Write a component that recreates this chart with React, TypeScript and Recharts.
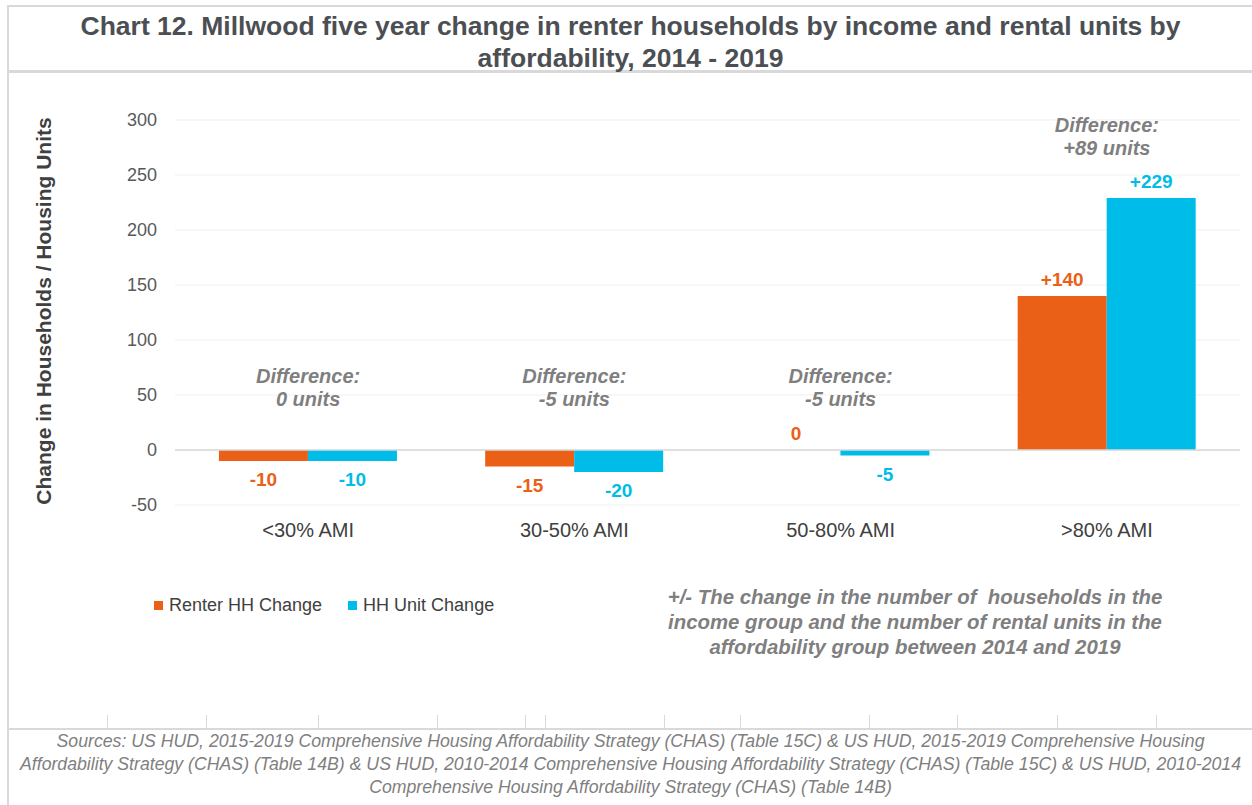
import React from 'react';
import {
  BarChart,
  Bar,
  XAxis,
  YAxis,
  CartesianGrid,
  ReferenceLine,
  ReferenceDot,
  LabelList,
  Legend,
} from 'recharts';

// Chart data
const CATEGORIES = ['<30% AMI', '30-50% AMI', '50-80% AMI', '>80% AMI'];
const RENTER_HH_CHANGE = [-10, -15, 0, 140];
const HH_UNIT_CHANGE = [-10, -20, -5, 229];
// vertical position (in data units) of the "Difference" notes
const DIFF_NOTE_Y = [57, 57, 57, 285];
const Y_TICKS = [-50, 0, 50, 100, 150, 200, 250, 300];

const SERIES = [
  { key: 'renter', name: 'Renter HH Change', color: '#EA6017' },
  { key: 'units', name: 'HH Unit Change', color: '#00BCE8' },
];

// decorative cell borders along the bottom of the frame
const FRAME_TICKS_X = [107, 206, 318, 437, 525, 545, 664, 740, 869, 957, 1057, 1156];

const FONT = '"Liberation Sans", Arial, sans-serif';
const FRAME = '#d9d9d9';

const data = CATEGORIES.map((c, i) => ({
  name: c,
  renter: RENTER_HH_CHANGE[i],
  units: HH_UNIT_CHANGE[i],
}));

function signed(v: number) {
  return v > 0 ? `+${v}` : `${v}`;
}

/**
 * Value label: above the bar for >= 0, below the bar end for negatives
 */
function makeValueLabel(color: string) {
  return (props: any) => {
    const { x, y, width, height, value } = props;
    const v = Number(value);
    const cx = Number(x) + Number(width) / 2;
    const top = Math.min(Number(y), Number(y) + Number(height));
    const bottom = Math.max(Number(y), Number(y) + Number(height));
    const ty = v >= 0 ? top - 10 : bottom + 25;
    return (
      <text
        x={cx}
        y={ty}
        textAnchor="middle"
        fill={color}
        fontFamily={FONT}
        fontWeight="bold"
        fontSize={19}
      >
        {signed(v)}
      </text>
    );
  };
}

function DiffNote(props: any) {
  const { viewBox, diff } = props;
  const cx = viewBox.x + (viewBox.width || 0) / 2;
  const cy = viewBox.y + (viewBox.height || 0) / 2;
  const style = {
    fontFamily: FONT,
    fontWeight: 'bold' as const,
    fontStyle: 'italic' as const,
    fontSize: 20,
    fill: '#7f7f7f',
  };
  return (
    <g>
      <text x={cx} y={cy - 4.5} textAnchor="middle" style={style}>
        Difference:
      </text>
      <text x={cx} y={cy + 18.5} textAnchor="middle" style={style}>
        {`${signed(diff)} units`}
      </text>
    </g>
  );
}

function LegendContent() {
  return (
    <div style={{ display: 'flex', alignItems: 'center', fontFamily: FONT, fontSize: 18, color: '#404040' }}>
      {SERIES.map((s, i) => (
        <div key={s.key} style={{ display: 'flex', alignItems: 'center', marginRight: i === 0 ? 26 : 0 }}>
          <span style={{ display: 'inline-block', width: 9, height: 9, background: s.color, marginRight: 6 }} />
          <span>{s.name}</span>
        </div>
      ))}
    </div>
  );
}

const abs = (style: React.CSSProperties): React.CSSProperties => ({ position: 'absolute', ...style });

export default function App() {
  return (
    <div style={{ position: 'absolute', left: 0, top: 0, width: 1252, height: 805, background: '#fff', overflow: 'hidden' }}>
      {/* frame */}
      <div style={abs({ left: 7, top: 5, width: 1245, height: 2, background: FRAME })} />
      <div style={abs({ left: 7, top: 5, width: 2, height: 800, background: FRAME })} />
      <div style={abs({ left: 7, top: 70, width: 1245, height: 3, background: FRAME })} />
      <div style={abs({ left: 7, top: 728, width: 1245, height: 2, background: FRAME })} />
      {FRAME_TICKS_X.map((x) => (
        <div key={x} style={abs({ left: x, top: 715, width: 1, height: 13, background: FRAME })} />
      ))}

      {/* title */}
      <div
        style={abs({
          left: 9,
          top: 10,
          width: 1243,
          textAlign: 'center',
          fontFamily: FONT,
          fontWeight: 'bold',
          fontSize: 26.5,
          lineHeight: '32px',
          color: '#4b4f54',
        })}
      >
        Chart 12. Millwood five year change in renter households by income and rental units by
        <br />
        affordability, 2014 - 2019
      </div>

      <BarChart
        width={1252}
        height={805}
        data={data}
        margin={{ top: 120, right: 12, bottom: 270, left: 115 }}
        barCategoryGap="16.5%"
        barGap={0}
        style={{ position: 'absolute', left: 0, top: 0 }}
      >
        <CartesianGrid vertical={false} stroke="#efefef" strokeWidth={1} />
        <XAxis
          dataKey="name"
          height={30}
          axisLine={false}
          tickLine={false}
          tickMargin={12}
          tick={{ fontSize: 20, fill: '#404040', fontFamily: FONT }}
        />
        <YAxis
          width={60}
          domain={[-50, 300]}
          ticks={Y_TICKS}
          axisLine={false}
          tickLine={false}
          tickMargin={12}
          tick={{ fontSize: 18, fill: '#595959', fontFamily: FONT }}
        />
        <ReferenceLine y={0} stroke="#d9d9d9" strokeWidth={1.5} />
        <Legend
          layout="horizontal"
          verticalAlign="middle"
          align="center"
          content={<LegendContent />}
          wrapperStyle={{ position: 'absolute', left: 154, top: 595, width: 420 }}
        />
        {SERIES.map((s) => (
          <Bar
            key={s.key}
            dataKey={s.key}
            name={s.name}
            fill={s.color}
            minPointSize={(v: number) => (v === 0 ? 0.01 : 0)}
            isAnimationActive={false}
          >
            <LabelList dataKey={s.key} content={makeValueLabel(s.color)} />
          </Bar>
        ))}
        {CATEGORIES.map((c, i) => (
          <ReferenceDot
            key={c}
            x={c}
            y={DIFF_NOTE_Y[i]}
            r={0}
            fill="none"
            stroke="none"
            label={(p: any) => <DiffNote {...p} diff={HH_UNIT_CHANGE[i] - RENTER_HH_CHANGE[i]} />}
          />
        ))}
      </BarChart>

      {/* y axis title */}
      <div
        style={abs({
          left: 44,
          top: 311,
          transform: 'translate(-50%, -50%) rotate(-90deg)',
          whiteSpace: 'nowrap',
          fontFamily: FONT,
          fontWeight: 'bold',
          fontSize: 21,
          color: '#404040',
        })}
      >
        Change in Households / Housing Units
      </div>

      {/* footnote */}
      <div
        style={abs({
          left: 615,
          top: 585,
          width: 600,
          textAlign: 'center',
          fontFamily: FONT,
          fontWeight: 'bold',
          fontStyle: 'italic',
          fontSize: 20.4,
          lineHeight: '25px',
          color: '#7f7f7f',
        })}
      >
        +/- The change in the number of&nbsp; households in the
        <br />
        income group and the number of rental units in the
        <br />
        affordability group between 2014 and 2019
      </div>

      {/* sources */}
      <div
        style={abs({
          left: 9,
          top: 730,
          width: 1243,
          textAlign: 'center',
          fontFamily: FONT,
          fontStyle: 'italic',
          fontSize: 17.7,
          lineHeight: '23px',
          color: '#7f7f7f',
        })}
      >
        Sources: US HUD, 2015-2019 Comprehensive Housing Affordability Strategy (CHAS) (Table 15C) &amp; US HUD, 2015-2019 Comprehensive Housing
        <br />
        Affordability Strategy (CHAS) (Table 14B) &amp; US HUD, 2010-2014 Comprehensive Housing Affordability Strategy (CHAS) (Table 15C) &amp; US HUD, 2010-2014
        <br />
        Comprehensive Housing Affordability Strategy (CHAS) (Table 14B)
      </div>
    </div>
  );
}
